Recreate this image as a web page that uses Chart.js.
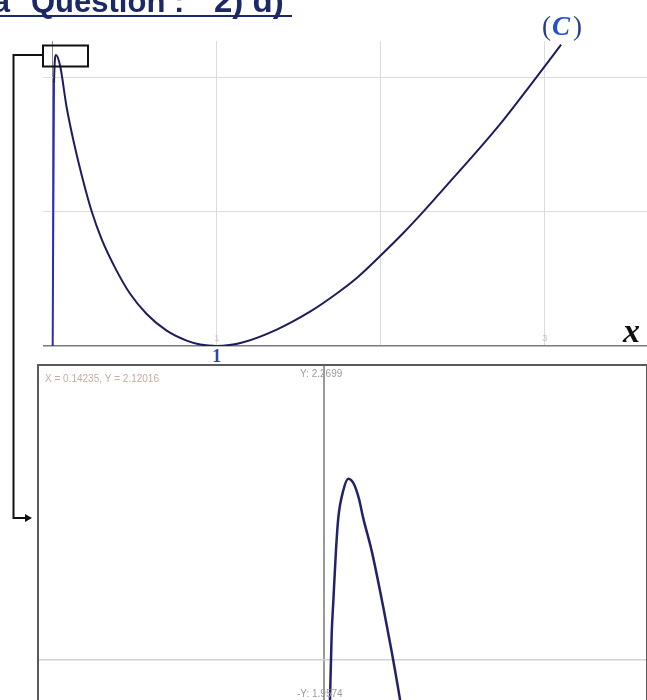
<!DOCTYPE html>
<html>
<head>
<meta charset="utf-8">
<script src="https://cdn.jsdelivr.net/npm/chart.js@4.4.1/dist/chart.umd.min.js"></script>
<style>
  html, body { margin: 0; padding: 0; background: #fff; overflow: hidden; }
  #wrap { position: relative; width: 647px; height: 700px; }
  #main { position: absolute; left: 0; top: 0; }
  #insetBox {
    position: absolute; left: 37px; top: 364px; width: 607px; height: 340px;
    border: 2px solid #5a5a5a; border-bottom: none; background: #fff;
  }
  #inset { position: absolute; left: 0; top: 0; }
</style>
</head>
<body>
<div id="wrap">
  <canvas id="main" width="647" height="700"></canvas>
  <div id="insetBox"><canvas id="inset" width="607" height="336"></canvas></div>
</div>
<script>
// curve (C)
const curveX = [0, 0.008, 0.02, 0.045, 0.085, 0.126, 0.177, 0.238, 0.299, 0.38, 0.471, 0.573,
  0.695, 0.817, 0.9, 1.0, 1.162, 1.366, 1.569, 1.732, 1.854, 2.006, 2.138, 2.26, 2.423, 2.585,
  2.748, 2.89, 2.97, 3.10];
const curveY = [0, 1.95, 2.164, 2.085, 1.775, 1.53, 1.27, 1.0, 0.793, 0.583, 0.39, 0.238,
  0.114, 0.04, 0.011, 0, 0.028, 0.122, 0.255, 0.39, 0.505, 0.68, 0.84, 0.999, 1.222, 1.445,
  1.68, 1.903, 2.03, 2.24];

// zoom window around the maximum
const zoomX = [0.0040, 0.0046, 0.0059, 0.0072, 0.0092, 0.011, 0.0148, 0.0187, 0.0231, 0.0269,
  0.0302, 0.0367, 0.0456, 0.0521, 0.0588, 0.0615];
const zoomY = [1.93, 1.962, 2.023, 2.054, 2.10, 2.13, 2.155, 2.166, 2.161, 2.1477,
  2.13, 2.10, 2.0485, 2.0076, 1.9616, 1.941];

// grid / tick values
const xGrid = [0, 1, 2, 3];
const yGrid = [0, 1, 2];
const xTickLabels = [1, 3];
const zoomXGrid = [0];
const zoomYGrid = [2];
const zoomTopLabel = 'Y: 2.2699';
const zoomBottomLabel = '-Y: 1.9574';
const cursorLabel = 'X = 0.14235, Y = 2.12016';

function toPoints(xs, ys) {
  return xs.map((x, i) => ({ x: x, y: ys[i] }));
}

const mainDecor = {
  id: 'mainDecor',
  afterDraw(chart) {
    const ctx = chart.ctx;
    const sx = chart.scales.x, sy = chart.scales.y;
    ctx.save();

    // title (cut at the top)
    ctx.fillStyle = '#1a2a66';
    ctx.font = 'bold 31px "Liberation Sans", Arial, sans-serif';
    ctx.textBaseline = 'alphabetic';
    ctx.textAlign = 'right';
    ctx.fillText('La', 10, 12);
    ctx.textAlign = 'left';
    ctx.fillText('Question :', 31, 12);
    ctx.font = 'bold 33px "Liberation Sans", Arial, sans-serif';
    ctx.fillText('2) d)', 214, 12);
    ctx.fillRect(0, 15, 292, 2);

    // faint tick labels near the axis
    ctx.font = '9px Arial, sans-serif';
    ctx.fillStyle = '#c4c4c4';
    ctx.textAlign = 'center';
    xTickLabels.forEach(v => ctx.fillText(String(v), sx.getPixelForValue(v), sy.getPixelForValue(0) - 5));

    // blue "1" under the minimum
    ctx.font = 'bold 18px "Liberation Serif", serif';
    ctx.fillStyle = '#2545b8';
    ctx.fillText('1', sx.getPixelForValue(1), 362);

    // axis name
    ctx.font = 'bold italic 34px "Liberation Serif", serif';
    ctx.fillStyle = '#111';
    ctx.textAlign = 'left';
    ctx.fillText('x', 623, 342);

    // curve name (C)
    ctx.font = '27px "Liberation Serif", serif';
    ctx.fillStyle = '#23408e';
    ctx.fillText('(', 542, 35);
    ctx.fillText(')', 573, 35);
    ctx.font = 'bold italic 27px "Liberation Serif", serif';
    ctx.fillStyle = '#2450d0';
    ctx.fillText('C', 552, 35);

    // zoom frame and connector arrow
    ctx.strokeStyle = '#111';
    ctx.lineWidth = 2;
    ctx.strokeRect(43, 45.5, 45, 21);
    ctx.beginPath();
    ctx.moveTo(43, 55);
    ctx.lineTo(13.5, 55);
    ctx.lineTo(13.5, 518);
    ctx.lineTo(27, 518);
    ctx.stroke();
    ctx.fillStyle = '#111';
    ctx.beginPath();
    ctx.moveTo(32, 518);
    ctx.lineTo(25, 514);
    ctx.lineTo(25, 522);
    ctx.closePath();
    ctx.fill();
    ctx.restore();
  }
};

new Chart(document.getElementById('main'), {
  type: 'scatter',
  data: {
    datasets: [{
      data: toPoints(curveX, curveY),
      showLine: true,
      borderColor: '#1d1d5e',
      borderWidth: 2,
      pointRadius: 0,
      cubicInterpolationMode: 'monotone',
      segment: {
        borderColor: c => c.p0DataIndex === 0 ? '#2b2bc4' : undefined
      }
    }]
  },
  options: {
    responsive: false,
    animation: false,
    layout: { padding: { left: 43, top: 41, right: 0, bottom: 354 } },
    plugins: { legend: { display: false }, tooltip: { enabled: false } },
    scales: {
      x: {
        type: 'linear', min: -0.0591, max: 3.6238,
        afterBuildTicks: s => { s.ticks = xGrid.map(v => ({ value: v })); },
        ticks: { display: false },
        border: { display: false },
        grid: {
          drawTicks: false,
          color: c => c.tick && c.tick.value === 0 ? '#8a8a8a' : '#dcdcdc',
          lineWidth: 1
        }
      },
      y: {
        type: 'linear', min: 0, max: 2.2677,
        afterBuildTicks: s => { s.ticks = yGrid.map(v => ({ value: v })); },
        ticks: { display: false },
        border: { display: false },
        grid: {
          drawTicks: false,
          color: c => c.tick && c.tick.value === 0 ? '#7a7a7a' : '#dcdcdc',
          lineWidth: c => c.tick && c.tick.value === 0 ? 1.5 : 1
        }
      }
    }
  },
  plugins: [mainDecor]
});

const insetDecor = {
  id: 'insetDecor',
  afterDraw(chart) {
    const ctx = chart.ctx;
    ctx.save();
    ctx.font = '10px Arial, sans-serif';
    ctx.textBaseline = 'alphabetic';
    ctx.fillStyle = '#c7ab9c';
    ctx.fillText(cursorLabel, 6, 16);
    ctx.fillStyle = '#9a9a9a';
    ctx.fillText(zoomTopLabel, 261, 11);
    ctx.fillText(zoomBottomLabel, 258, 331);
    ctx.restore();
  }
};

new Chart(document.getElementById('inset'), {
  type: 'scatter',
  data: {
    datasets: [{
      data: toPoints(zoomX, zoomY),
      showLine: true,
      borderColor: '#22226a',
      borderWidth: 2.5,
      pointRadius: 0,
      cubicInterpolationMode: 'monotone'
    }]
  },
  options: {
    responsive: false,
    animation: false,
    layout: { padding: 0 },
    plugins: { legend: { display: false }, tooltip: { enabled: false } },
    scales: {
      x: {
        type: 'linear', min: -0.2192, max: 0.2477,
        afterBuildTicks: s => { s.ticks = zoomXGrid.map(v => ({ value: v })); },
        ticks: { display: false },
        border: { display: false },
        grid: { drawTicks: false, color: '#9a9a9a', lineWidth: 2 }
      },
      y: {
        type: 'linear', min: 1.9616, max: 2.2693,
        afterBuildTicks: s => { s.ticks = zoomYGrid.map(v => ({ value: v })); },
        ticks: { display: false },
        border: { display: false },
        grid: { drawTicks: false, color: '#d2d2d2', lineWidth: 1.5 }
      }
    }
  },
  plugins: [insetDecor]
});
</script>
</body>
</html>
